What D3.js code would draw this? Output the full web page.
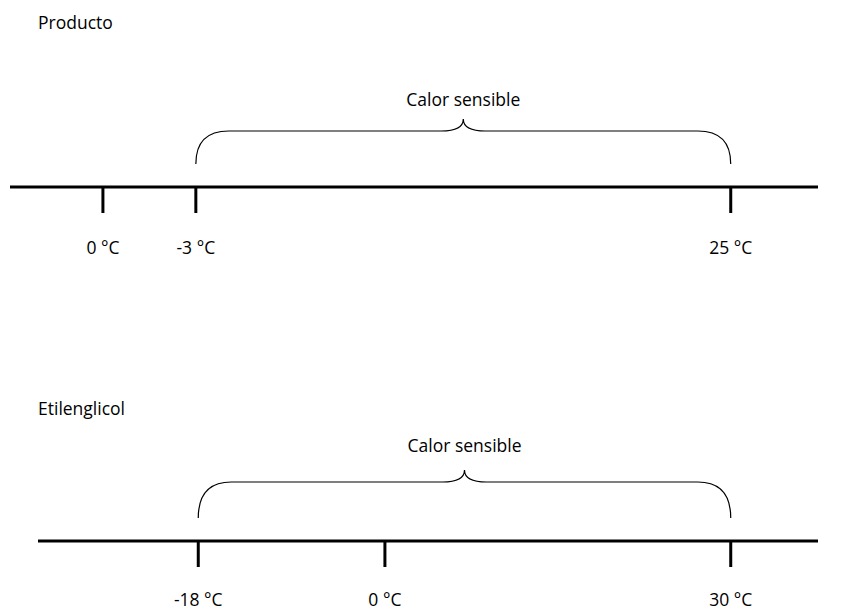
<!DOCTYPE html>
<html><head><meta charset="utf-8">
<script src="https://cdn.jsdelivr.net/npm/d3@7"></script>
<style>body{margin:0;background:#fff}text{font-family:"Open Sans",sans-serif;font-size:17.5px;fill:#000}</style>
</head><body>
<script>
// schematic diagrams: tick labels and their position along the axis (0..100)
var topLabels = ['0 °C', '-3 °C', '25 °C'];
var topPos = [11.5, 23.0, 89.2];
var topBrace = [23.0, 89.2];
var botLabels = ['-18 °C', '0 °C', '30 °C'];
var botPos = [23.3, 46.4, 89.2];
var botBrace = [23.3, 89.2];

var svg = d3.select("body").append("svg").attr("width", 851).attr("height", 613);

function brace(x0, x1, yTop, yEnd) {
  var m = (x0 + x1) / 2, r = 22;
  return "M" + x0 + "," + yEnd +
    " Q" + x0 + "," + (yTop + 12) + " " + (x0 + r * 1.5) + "," + (yTop + 12) +
    " L" + (m - r) + "," + (yTop + 12) +
    " Q" + m + "," + (yTop + 12) + " " + m + "," + yTop +
    " Q" + m + "," + (yTop + 12) + " " + (m + r) + "," + (yTop + 12) +
    " L" + (x1 - r * 1.5) + "," + (yTop + 12) +
    " Q" + x1 + "," + (yTop + 12) + " " + x1 + "," + yEnd;
}

function panel(title, titleY, lineY, x0, labels, pos, br, labY, braceTop, textY) {
  var x = d3.scaleLinear().domain([0, 100]).range([10, 818]);
  svg.append("text").attr("x", 38).attr("y", titleY).text(title);
  svg.append("line").attr("x1", x0).attr("x2", 818).attr("y1", lineY).attr("y2", lineY)
    .attr("stroke", "#000").attr("stroke-width", 3);
  var g = svg.append("g");
  g.selectAll("line").data(pos).enter().append("line")
    .attr("x1", d => x(d)).attr("x2", d => x(d)).attr("y1", lineY).attr("y2", lineY + 26)
    .attr("stroke", "#000").attr("stroke-width", 3);
  g.selectAll("text").data(labels).enter().append("text")
    .attr("x", (d, i) => x(pos[i])).attr("y", labY).attr("text-anchor", "middle").text(d => d);
  svg.append("path").attr("d", brace(x(br[0]), x(br[1]), braceTop, lineY - 23))
    .attr("fill", "none").attr("stroke", "#000").attr("stroke-width", 1.2);
  svg.append("text").attr("x", (x(br[0]) + x(br[1])) / 2).attr("y", textY)
    .attr("text-anchor", "middle").text("Calor sensible");
}

panel("Producto", 29, 187, 10, topLabels, topPos, topBrace, 254, 119, 106);
panel("Etilenglicol", 415, 541, 38, botLabels, botPos, botBrace, 606, 470, 452);
</script>
</body></html>
